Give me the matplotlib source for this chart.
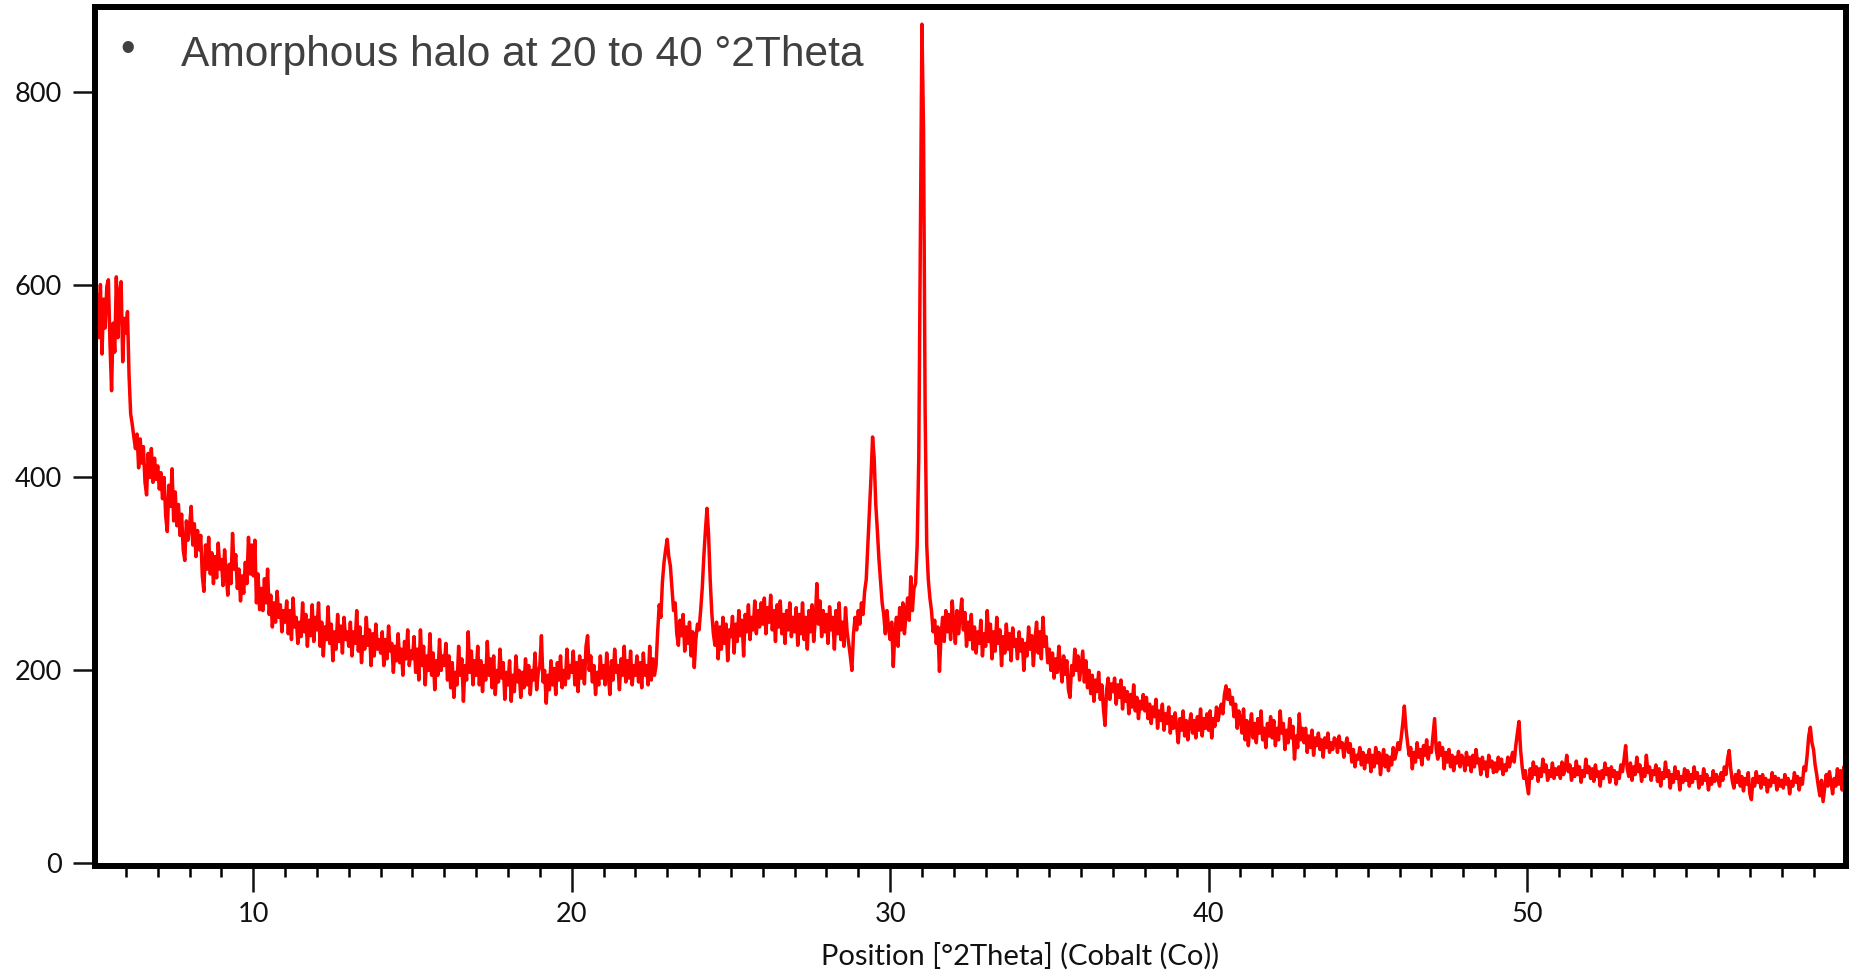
import numpy as np
import matplotlib.pyplot as plt

plt.rcParams['font.family'] = ['Lato', 'DejaVu Sans']

# XRD scan, counts every 0.05 deg 2Theta starting at 5.00
start_2theta = 5.0
step_2theta = 0.05

counts_05_10 = [
    575, 540, 590, 545, 600, 528, 585, 555, 598, 605, 540, 490, 560, 530, 608, 545, 592, 603, 520, 565,
    550, 572, 505, 466, 455, 442, 430, 445, 410, 440, 415, 432, 395, 382, 425, 400, 430, 395, 420, 398,
    412, 388, 405, 378, 400, 360, 344, 392, 370, 409, 355, 385, 350, 372, 340, 362, 325, 314, 355, 335,
    350, 370, 330, 352, 318, 345, 325, 340, 298, 282, 330, 305, 338, 300, 322, 290, 318, 296, 332, 305,
    315, 288, 325, 300, 278, 310, 290, 342, 305, 320, 285, 305, 272, 298, 280, 312, 290, 338, 300, 330,
]
counts_10_15 = [
    298, 335, 270, 300, 263, 285, 262, 295, 270, 305, 258, 278, 245, 270, 250, 282, 255, 268, 240, 262,
    250, 272, 238, 262, 232, 275, 245, 255, 228, 250, 235, 270, 240, 258, 225, 252, 236, 268, 230, 255,
    242, 270, 225, 250, 215, 245, 232, 266, 228, 248, 210, 240, 222, 258, 230, 246, 218, 255, 232, 240,
    225, 250, 215, 240, 228, 262, 220, 245, 208, 235, 222, 255, 226, 242, 205, 238, 215, 248, 222, 232,
    218, 240, 205, 232, 212, 246, 220, 228, 198, 225, 210, 238, 208, 222, 195, 230, 212, 242, 205, 220,
]
counts_15_20 = [
    212, 235, 198, 222, 190, 242, 205, 225, 185, 215, 200, 238, 195, 218, 180, 210, 195, 232, 200, 215,
    205, 228, 190, 215, 182, 208, 172, 198, 185, 225, 195, 212, 168, 205, 190, 240, 198, 220, 185, 210,
    195, 225, 185, 210, 178, 205, 190, 230, 195, 212, 182, 215, 175, 200, 188, 222, 192, 208, 170, 198,
    185, 210, 168, 195, 178, 215, 188, 200, 172, 198, 182, 212, 185, 205, 175, 200, 190, 218, 180, 198,
    205, 236, 188, 200, 166, 195, 180, 210, 185, 202, 175, 208, 190, 215, 182, 200, 185, 222, 192, 205,
]
counts_20_25 = [
    198, 220, 185, 208, 178, 215, 192, 210, 186, 225, 236, 200, 215, 188, 205, 175, 198, 185, 215, 192,
    205, 185, 218, 195, 175, 210, 190, 222, 198, 205, 180, 212, 195, 225, 188, 210, 192, 220, 185, 205,
    195, 215, 188, 208, 182, 218, 195, 205, 185, 225, 190, 212, 195, 205, 240, 268, 255, 292, 312, 325,
    336, 318, 308, 285, 262, 270, 238, 226, 252, 236, 258, 220, 245, 228, 250, 215, 240, 203, 232, 248,
    242, 262, 285, 318, 345, 368, 340, 294, 260, 238, 226, 250, 212, 245, 222, 255, 228, 248, 210, 242,
]
counts_25_30 = [
    235, 256, 218, 248, 230, 262, 236, 252, 215, 258, 240, 268, 232, 255, 242, 272, 238, 262, 245, 270,
    248, 275, 238, 265, 250, 278, 242, 262, 230, 268, 245, 272, 238, 258, 228, 262, 242, 270, 235, 255,
    240, 265, 226, 258, 238, 270, 232, 255, 222, 262, 240, 268, 230, 252, 290, 248, 272, 235, 262, 240,
    258, 228, 266, 242, 255, 222, 262, 238, 270, 232, 250, 225, 265, 240, 228, 215, 200, 238, 255, 242,
    262, 248, 270, 258, 282, 294, 330, 365, 400, 442, 420, 372, 345, 315, 292, 270, 258, 238, 262, 245,
]
counts_30_35 = [
    232, 250, 204, 240, 255, 225, 265, 242, 270, 238, 258, 275, 252, 297, 262, 285, 290, 330, 420, 640,
    870, 760, 470, 330, 294, 275, 262, 240, 252, 228, 245, 199, 236, 255, 230, 262, 240, 258, 232, 272,
    248, 228, 262, 238, 255, 274, 242, 260, 225, 250, 232, 258, 222, 245, 218, 240, 228, 252, 215, 238,
    225, 262, 230, 248, 212, 240, 220, 255, 228, 242, 205, 235, 218, 248, 222, 238, 210, 244, 225, 232,
    212, 240, 220, 232, 200, 228, 215, 245, 222, 236, 205, 232, 250, 218, 240, 212, 255, 225, 235, 208,
]
counts_35_40 = [
    222, 200, 218, 192, 212, 198, 225, 205, 188, 215, 196, 210, 180, 172, 205, 195, 222, 200, 215, 190,
    205, 220, 188, 210, 182, 200, 176, 195, 168, 190, 178, 198, 170, 185, 160, 143, 180, 192, 170, 186,
    178, 192, 165, 185, 172, 190, 160, 182, 168, 178, 155, 175, 162, 185, 158, 172, 150, 168, 160, 175,
    158, 172, 150, 165, 145, 162, 152, 170, 140, 158, 148, 165, 138, 155, 145, 162, 135, 152, 140, 156,
    142, 125, 150, 138, 158, 132, 148, 128, 145, 155, 135, 148, 130, 152, 138, 160, 132, 150, 140, 155,
]
counts_40_45 = [
    138, 158, 130, 150, 142, 162, 148, 158, 165, 155, 175, 184, 170, 180, 165, 172, 152, 165, 140, 158,
    150, 135, 160, 128, 148, 122, 142, 155, 130, 145, 125, 150, 135, 158, 128, 140, 120, 145, 132, 152,
    130, 148, 122, 140, 128, 158, 135, 145, 118, 138, 125, 150, 130, 142, 108, 132, 120, 155, 128, 140,
    125, 140, 115, 132, 120, 138, 112, 130, 122, 135, 118, 128, 110, 130, 120, 135, 115, 125, 118, 130,
    128, 115, 132, 120, 125, 110, 122, 130, 115, 124, 105, 118, 100, 112, 108, 120, 102, 115, 98, 112,
]
counts_45_50 = [
    105, 118, 95, 112, 100, 120, 104, 115, 92, 108, 118, 100, 112, 96, 110, 102, 120, 108, 115, 125,
    118, 130, 145, 163, 140, 125, 112, 120, 98, 115, 105, 125, 110, 118, 102, 122, 112, 128, 108, 120,
    115, 132, 150, 118, 108, 125, 112, 120, 98, 115, 105, 118, 100, 112, 96, 110, 104, 116, 100, 112,
    108, 96, 115, 102, 110, 95, 112, 100, 118, 104, 108, 92, 110, 98, 105, 90, 112, 100, 106, 94,
    104, 95, 110, 98, 108, 92, 102, 96, 110, 100, 108, 115, 105, 122, 135, 147, 118, 100, 88, 96,
]
counts_50_55 = [
    82, 72, 98, 88, 105, 92, 100, 85, 98, 90, 108, 95, 102, 86, 96, 90, 104, 88, 98, 92,
    100, 88, 105, 92, 98, 112, 95, 102, 86, 98, 90, 106, 92, 100, 84, 96, 90, 108, 94, 100,
    88, 98, 85, 102, 90, 95, 80, 96, 88, 104, 92, 98, 84, 100, 90, 96, 82, 94, 88, 102,
    95, 108, 122, 98, 90, 104, 86, 100, 92, 110, 95, 102, 85, 98, 90, 112, 94, 100, 86, 96,
    92, 102, 85, 98, 80, 94, 88, 105, 90, 96, 78, 92, 84, 100, 88, 95, 76, 90, 84, 98,
]
counts_55_60 = [
    86, 96, 80, 92, 84, 100, 88, 94, 78, 90, 82, 98, 86, 92, 76, 88, 82, 96, 85, 92,
    88, 80, 94, 86, 100, 92, 108, 117, 98, 85, 78, 92, 84, 96, 80, 90, 75, 88, 82, 94,
    72, 66, 88, 80, 95, 84, 90, 78, 92, 82, 88, 74, 86, 80, 94, 84, 90, 76, 88, 80,
    86, 78, 92, 82, 88, 72, 85, 80, 94, 84, 90, 76, 88, 82, 100, 96, 112, 132, 141, 125,
    118, 102, 92, 80, 70, 86, 64, 78, 92, 80, 95, 84, 72, 88, 80, 98, 82, 96, 76, 100,
    88,
]

x_major = [10, 20, 30, 40, 50]
y_major = [0, 200, 400, 600, 800]
xlabel = 'Position [°2Theta] (Cobalt (Co))'
note = 'Amorphous halo at 20 to 40 °2Theta'

counts = np.concatenate([counts_05_10, counts_10_15, counts_15_20, counts_20_25,
                         counts_25_30, counts_30_35, counts_35_40, counts_40_45,
                         counts_45_50, counts_50_55, counts_55_60])
two_theta = start_2theta + step_2theta * np.arange(len(counts))

W, H = 1854, 975
fig = plt.figure(figsize=(W / 100, H / 100), dpi=100)
ax = fig.add_axes([95 / W, 1 - 866 / H, (1846 - 95) / W, (866 - 7.3) / H])

ax.plot(two_theta, counts, color='#ff0000', lw=2.5)

ax.set_xlim(5.03, 60.02)
ax.set_ylim(-2.8, 887.5)
ax.set_xticks(x_major)
ax.set_xticks(np.arange(6, 60), minor=True)
ax.set_yticks(y_major)

ax.tick_params(axis='x', which='major', direction='out', length=18.5, width=1.8,
               pad=7.5, labelsize=19.5, colors='#111111')
ax.tick_params(axis='x', which='minor', direction='out', length=7.7, width=1.8)
ax.tick_params(axis='y', which='major', direction='out', length=16, width=1.8,
               pad=8, labelsize=19.5, colors='#111111')
for s in ax.spines.values():
    s.set_linewidth(4.3)

fig.text(1020 / W, 1 - 965 / H, xlabel, ha='center', va='baseline',
         fontsize=21, color='#111111')

fig.text(127.7 / W, 1 - 50 / H, '\u2022', ha='center', va='center',
         fontsize=30, color='#404040', family=['Liberation Sans', 'DejaVu Sans'])
fig.text(181 / W, 1 - 66 / H, note, ha='left', va='baseline',
         fontsize=30.6, color='#404040', family=['Liberation Sans', 'DejaVu Sans'])

fig.savefig('out.png', dpi=100)
